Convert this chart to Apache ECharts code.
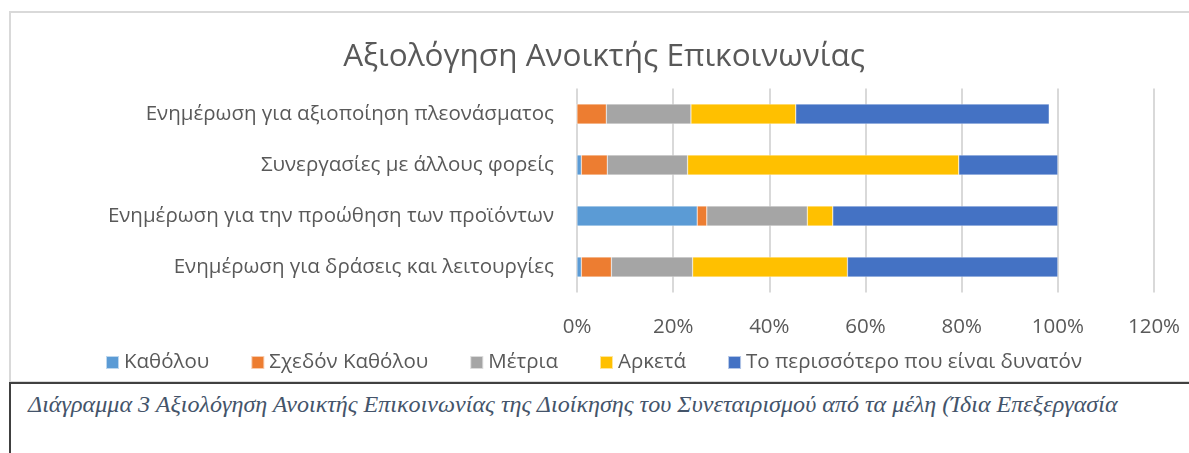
<!DOCTYPE html>
<html>
<head>
<meta charset="utf-8">
<script src="https://cdn.jsdelivr.net/npm/echarts@6/dist/echarts.min.js"></script>
<style>
  html, body { margin: 0; padding: 0; background: #fff; overflow: hidden; width: 1189px; height: 453px; }
  #chart { position: absolute; left: 0; top: 0; width: 1208px; height: 453px; }
  .chartBox { position: absolute; left: 9px; top: 11px; width: 1200px; height: 372px; border: 2px solid #d9d9d9; box-sizing: border-box; pointer-events: none; }
  .caption { position: absolute; left: 9px; top: 382px; width: 1200px; height: 100px; border: 2px solid #404040; box-sizing: border-box; background: #fff; }
  .caption span { position: absolute; left: 17px; top: 7px; font-family: "Liberation Serif", "DejaVu Serif", serif; font-style: italic; font-size: 24.1px; color: #44546a; white-space: nowrap; }
</style>
</head>
<body>
<div id="chart"></div>
<div class="chartBox"></div>
<div class="caption"><span>Διάγραμμα 3 Αξιολόγηση Ανοικτής Επικοινωνίας της Διοίκησης του Συνεταιρισμού από τα μέλη (Ίδια Επεξεργασία</span></div>
<script>
const categories = [
  'Ενημέρωση για αξιοποίηση πλεονάσματος',
  'Συνεργασίες με άλλους φορείς',
  'Ενημέρωση για την προώθηση των προϊόντων',
  'Ενημέρωση για δράσεις και λειτουργίες'
];
const seriesNames = ['Καθόλου', 'Σχεδόν Καθόλου', 'Μέτρια', 'Αρκετά', 'Το περισσότερο που είναι δυνατόν'];
const katholou = [0, 0.9, 25.0, 0.9];
const sxedonKatholou = [6.1, 5.4, 2.0, 6.25];
const metria = [17.6, 16.7, 20.9, 16.9];
const arketa = [21.8, 56.4, 5.3, 32.2];
const perissotero = [52.7, 20.6, 46.8, 43.75];
const colors = ['#5b9bd5', '#ed7d31', '#a5a5a5', '#ffc000', '#4472c4'];

const chart = echarts.init(document.getElementById('chart'));
const font = 'Open Sans';
const values = [katholou, sxedonKatholou, metria, arketa, perissotero];

const option = {
  animation: false,
  color: colors,
  title: {
    text: 'Αξιολόγηση Ανοικτής Επικοινωνίας',
    left: 'center',
    top: 36,
    textStyle: { fontFamily: font, fontSize: 31.5, fontWeight: 'normal', color: '#595959' }
  },
  legend: {
    left: 100,
    top: 347,
    icon: 'rect',
    itemWidth: 13,
    itemHeight: 13,
    itemGap: 41,
    textStyle: { fontFamily: font, fontSize: 20.5, color: '#595959' },
    data: seriesNames
  },
  grid: { left: 577, right: 1208 - 1154, top: 88.5, bottom: 453 - 292.5 },
  xAxis: {
    type: 'value',
    min: 0,
    max: 120,
    interval: 20,
    axisLine: { show: false },
    axisTick: { show: false },
    splitLine: { lineStyle: { color: '#d9d9d9', width: 2 } },
    axisLabel: { formatter: '{value}%', fontFamily: font, fontSize: 20.5, color: '#595959', margin: 24 }
  },
  yAxis: {
    type: 'category',
    inverse: true,
    data: categories,
    axisLine: { show: false },
    axisTick: { show: false },
    axisLabel: { fontFamily: font, fontSize: 20.5, color: '#595959', margin: 23 }
  },
  series: seriesNames.map((name, i) => ({
    name: name,
    type: 'bar',
    stack: 'total',
    barWidth: 20,
    itemStyle: { borderColor: 'rgba(255,255,255,0.6)', borderWidth: 0.5 },
    data: values[i]
  }))
};

chart.setOption(option);
</script>
</body>
</html>
